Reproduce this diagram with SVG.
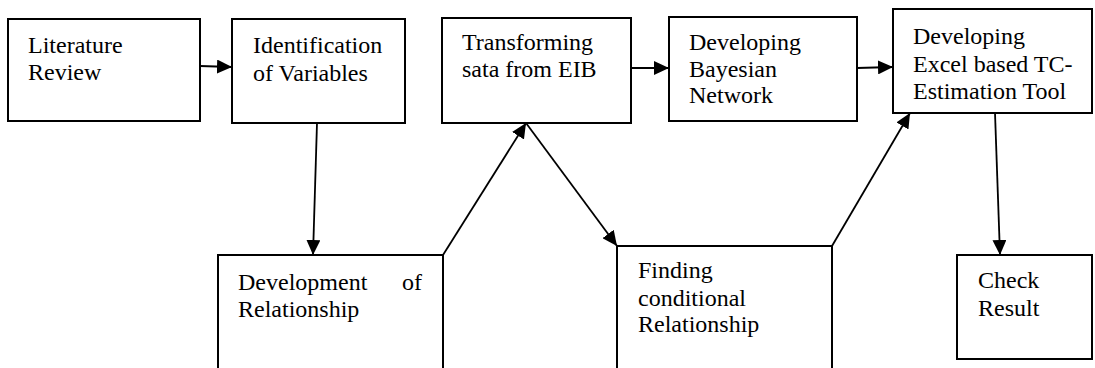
<svg xmlns="http://www.w3.org/2000/svg" width="1095" height="368" viewBox="0 0 1095 368">
<style>
.box{fill:#fff;stroke:#000;stroke-width:2}
.c{fill:none;stroke:#000;stroke-width:1.8}
</style>
<defs>
<marker id="ah" markerUnits="userSpaceOnUse" markerWidth="16" markerHeight="14" refX="15" refY="7" orient="auto">
<path d="M0,0 L15,7 L0,14 z" fill="#000"/>
</marker>
</defs>
<rect width="1095" height="368" fill="#fff"/>
<g font-family="Liberation Serif, Times New Roman, DejaVu Serif, serif" font-size="24" fill="#000">
<g id="lit"><rect class="box" x="8" y="19" width="192" height="102"/><text x="28" y="53">Literature</text><text x="28" y="80">Review</text></g>
<g id="ident"><rect class="box" x="232" y="19" width="173" height="104"/><text x="253" y="53">Identification</text><text x="253" y="81">of Variables</text></g>
<g id="trans"><rect class="box" x="442" y="18" width="189" height="105"/><text x="462" y="50">Transforming</text><text x="462" y="77">sata from EIB</text></g>
<g id="bayes"><rect class="box" x="669" y="17" width="188" height="104"/><text x="689" y="50">Developing</text><text x="689" y="77">Bayesian</text><text x="689" y="103">Network</text></g>
<g id="excel"><rect class="box" x="893" y="9" width="199" height="104"/><text x="913" y="44">Developing</text><text x="913" y="72">Excel based TC-</text><text x="913" y="99">Estimation Tool</text></g>
<g id="devrel"><rect class="box" x="218" y="255" width="225" height="120"/><text x="238" y="290">Development</text><text x="422" y="290" text-anchor="end">of</text><text x="238" y="317">Relationship</text></g>
<g id="finding"><rect class="box" x="617" y="246" width="215" height="130"/><text x="638" y="278">Finding</text><text x="638" y="306">conditional</text><text x="638" y="332">Relationship</text></g>
<g id="check"><rect class="box" x="957" y="255" width="135" height="104"/><text x="978" y="288">Check</text><text x="978" y="316">Result</text></g>
</g>
<g id="connectors">
<line class="c" x1="200" y1="66" x2="232" y2="67" marker-end="url(#ah)"/>
<line class="c" x1="317" y1="123" x2="313" y2="255" marker-end="url(#ah)"/>
<line class="c" x1="443" y1="255" x2="526" y2="123" marker-end="url(#ah)"/>
<line class="c" x1="526" y1="123" x2="617" y2="246" marker-end="url(#ah)"/>
<line class="c" x1="631" y1="68" x2="669" y2="68" marker-end="url(#ah)"/>
<line class="c" x1="857" y1="68" x2="893" y2="67" marker-end="url(#ah)"/>
<line class="c" x1="832" y1="246" x2="910" y2="113" marker-end="url(#ah)"/>
<line class="c" x1="995" y1="113" x2="1000" y2="255" marker-end="url(#ah)"/>
</g>
</svg>
